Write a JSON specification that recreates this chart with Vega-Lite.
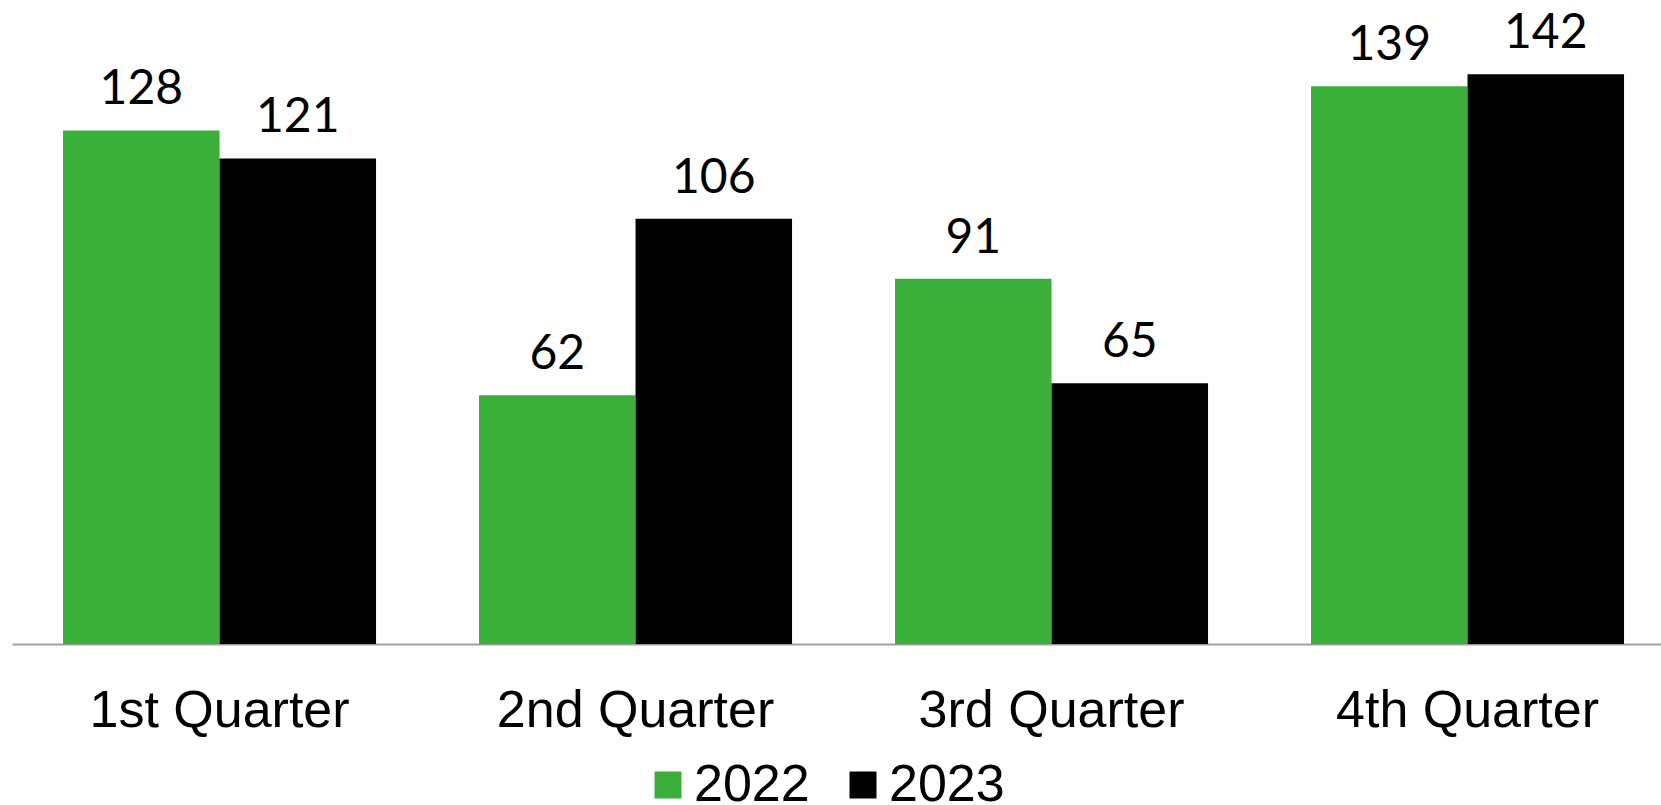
{
  "$schema": "https://vega.github.io/schema/vega-lite/v6.json",
  "width": 1649,
  "height": 642,
  "autosize": {"type": "none"},
  "padding": {"left": 12, "top": 2, "right": 0, "bottom": 161},
  "background": "white",
  "config": {"view": {"stroke": null}},
  "data": {
    "values": [
      {"quarter": "1st Quarter", "year": "2022", "value": 128},
      {"quarter": "1st Quarter", "year": "2023", "value": 121},
      {"quarter": "2nd Quarter", "year": "2022", "value": 62},
      {"quarter": "2nd Quarter", "year": "2023", "value": 106},
      {"quarter": "3rd Quarter", "year": "2022", "value": 91},
      {"quarter": "3rd Quarter", "year": "2023", "value": 65},
      {"quarter": "4th Quarter", "year": "2022", "value": 139},
      {"quarter": "4th Quarter", "year": "2023", "value": 142}
    ]
  },
  "encoding": {
    "x": {
      "field": "quarter",
      "type": "nominal",
      "sort": null,
      "scale": {"paddingInner": 0.2476, "paddingOuter": 0.1058, "align": 0.58},
      "axis": {
        "title": null,
        "labelAngle": 0,
        "labelFont": "Liberation Sans",
        "labelFontSize": 52,
        "labelColor": "#000000",
        "labelPadding": 41,
        "labelLimit": 0,
        "labelOverlap": false,
        "ticks": false,
        "tickSize": 0,
        "domainColor": "#a0a0a0",
        "domainWidth": 2,
        "grid": false
      }
    },
    "xOffset": {"field": "year", "type": "nominal", "scale": {"paddingInner": 0, "paddingOuter": 0}},
    "y": {
      "field": "value",
      "type": "quantitative",
      "scale": {"domain": [0, 160], "nice": false},
      "axis": null
    }
  },
  "layer": [
    {
      "mark": {"type": "bar"},
      "encoding": {
        "color": {
          "field": "year",
          "type": "nominal",
          "scale": {"domain": ["2022", "2023"], "range": ["#3AAF3A", "#000000"]},
          "legend": {
            "title": null,
            "orient": "none",
            "legendX": 630,
            "legendY": 757,
            "direction": "horizontal",
            "symbolType": "square",
            "symbolSize": 729,
            "symbolStrokeWidth": 0,
            "labelFont": "Liberation Sans",
            "labelFontSize": 52,
            "labelColor": "#000000",
            "labelOffset": 0,
            "columnPadding": 27
          }
        }
      }
    },
    {
      "mark": {"type": "text", "baseline": "alphabetic", "dy": -26, "font": "Lato", "fontSize": 48, "color": "#000000"},
      "encoding": {"text": {"field": "value", "type": "quantitative"}}
    }
  ]
}
